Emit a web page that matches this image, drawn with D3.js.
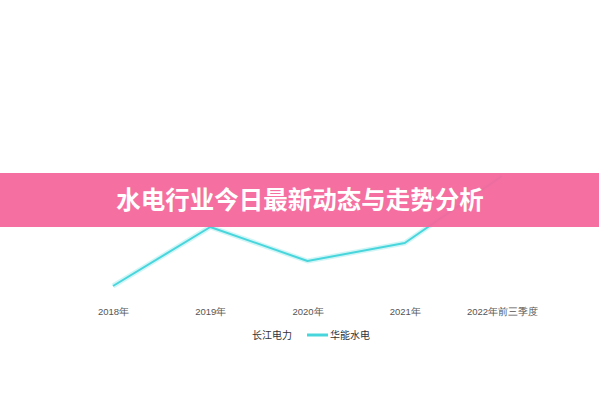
<!DOCTYPE html>
<html>
<head>
<meta charset="utf-8">
<script src="https://cdn.jsdelivr.net/npm/d3@7"></script>
<style>
  body { margin: 0; background: #fff; }
  svg { display: block; font-family: "Noto Sans CJK SC", "Noto Sans", sans-serif; }
</style>
</head>
<body>
<div id="chart"></div>
<script>
// categories and series
const categories = ["2018年", "2019年", "2020年", "2021年", "2022年前三季度"];
const seriesNames = ["长江电力", "华能水电"];
const huanengValues = [7, 36.5, 19.5, 28.5, 62];
const titleText = "水电行业今日最新动态与走势分析";

const width = 599, height = 400;

let svg = d3.select("#chart").append("svg")
    .attr("width", width)
    .attr("height", height);

let x = d3.scalePoint()
    .domain(categories)
    .range([113, 502]);

let y = d3.scaleLinear()
    .domain([0, 100])
    .range([300, 100]);

// x axis labels only, no line / ticks
let xAxis = svg.append("g")
    .attr("transform", "translate(0,301)")
    .call(d3.axisBottom(x).tickSize(0).tickPadding(7));
xAxis.select(".domain").remove();
xAxis.selectAll("text")
    .attr("fill", "#555")
    .attr("font-size", 9.5);

// soft glow under the line
let line = d3.line()
    .x((d, i) => x(categories[i]))
    .y(d => y(d));

svg.append("path")
    .datum(huanengValues)
    .attr("fill", "none")
    .attr("stroke", "#48d6dc")
    .attr("stroke-opacity", 0.25)
    .attr("stroke-width", 5)
    .attr("stroke-linejoin", "round")
    .attr("d", line);

svg.append("path")
    .datum(huanengValues)
    .attr("fill", "none")
    .attr("stroke", "#48d6dc")
    .attr("stroke-width", 2)
    .attr("stroke-linejoin", "round")
    .attr("d", line);

// legend
let legend = svg.append("g").attr("font-size", 10).attr("fill", "#333");
legend.append("text")
    .attr("x", 252).attr("y", 339)
    .text(seriesNames[0]);
legend.append("line")
    .attr("x1", 307).attr("x2", 328)
    .attr("y1", 335).attr("y2", 335)
    .attr("stroke", "#48d6dc")
    .attr("stroke-width", 3);
legend.append("text")
    .attr("x", 330).attr("y", 339)
    .text(seriesNames[1]);

// banner over the chart
svg.append("rect")
    .attr("x", 0).attr("y", 173)
    .attr("width", width).attr("height", 54)
    .attr("fill", "#f5679c")
    .attr("fill-opacity", 0.95);

svg.append("text")
    .attr("x", 300).attr("y", 202)
    .attr("text-anchor", "middle")
    .attr("dominant-baseline", "middle")
    .attr("font-size", 24.5)
    .attr("font-weight", "bold")
    .attr("fill", "#fff")
    .text(titleText);
</script>
</body>
</html>
